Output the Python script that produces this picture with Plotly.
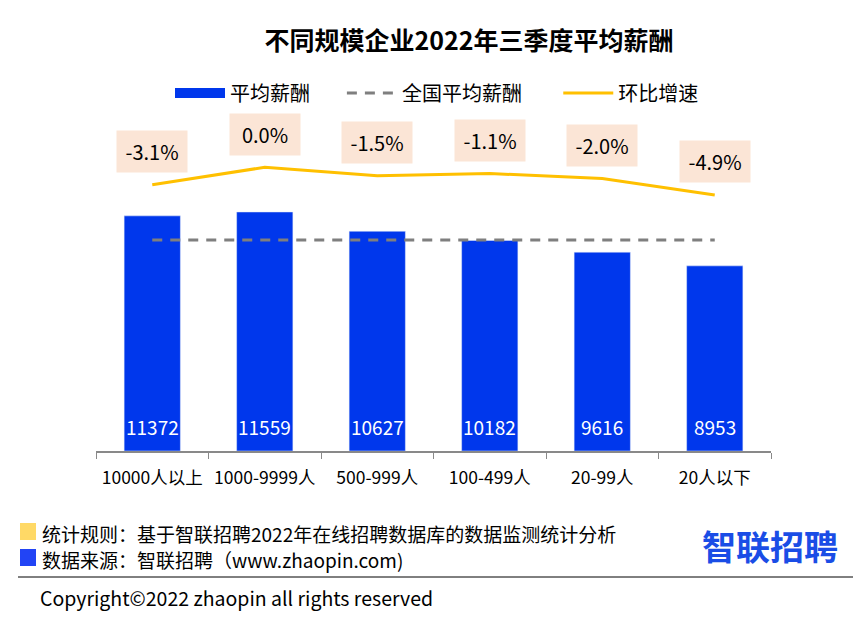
import plotly.graph_objects as go

categories = ["10000人以上", "1000-9999人", "500-999人", "100-499人", "20-99人", "20人以下"]
avg_salary = [11372, 11559, 10627, 10182, 9616, 8953]
national_avg = [10200] * len(categories)
growth = [-3.1, 0.0, -1.5, -1.1, -2.0, -4.9]
growth_labels = ["-3.1%", "0.0%", "-1.5%", "-1.1%", "-2.0%", "-4.9%"]

FONT = "Noto Sans CJK SC"
BLUE = "#0037EC"
YELLOW = "#FFC000"
GRAY = "#7F7F7F"
NB = "\u00a0"

fig = go.Figure()
fig.add_trace(go.Bar(
    x=categories, y=avg_salary, name="平均薪酬", marker_color=BLUE, width=0.5,
    showlegend=False,
))
# legend entry for bars (wide rectangle symbol)
fig.add_trace(go.Scatter(
    x=[None], y=[None], name="平均薪酬" + NB * 6, mode="lines",
    line=dict(color=BLUE, width=12),
))
fig.add_trace(go.Scatter(
    x=categories, y=national_avg, name="全国平均薪酬" + NB * 7, mode="lines",
    line=dict(color=GRAY, width=3, dash="10px,8px"),
))
fig.add_trace(go.Scatter(
    x=categories, y=growth, name="环比增速", mode="lines", yaxis="y2",
    line=dict(color=YELLOW, width=3),
))

annotations = []
for c, v in zip(categories, avg_salary):
    annotations.append(dict(
        x=c, y=0, xref="x", yref="y", text=str(v), showarrow=False, yshift=25,
        yanchor="middle", font=dict(size=19, color="white", family=FONT),
    ))
for c, g, lab in zip(categories, growth, growth_labels):
    annotations.append(dict(
        x=c, y=g, xref="x", yref="y2", text=lab, showarrow=False, yshift=33,
        bgcolor="#FBE5D6", borderpad=0, width=70, height=41,
        font=dict(size=20, color="#000", family=FONT),
    ))

L, R, T, B = 96, 771, 100, 451
W, H = 866, 622
def px(p):
    return (p - L) / (R - L)
def py(p):
    return (B - p) / (B - T)

annotations += [
    dict(xref="paper", yref="paper", x=px(40), y=py(533), xanchor="left", yanchor="middle",
         text="统计规则：基于智联招聘2022年在线招聘数据库的数据监测统计分析", showarrow=False,
         font=dict(size=19, color="#000", family=FONT)),
    dict(xref="paper", yref="paper", x=px(40), y=py(559), xanchor="left", yanchor="middle",
         text="数据来源：智联招聘（www.zhaopin.com)", showarrow=False,
         font=dict(size=19, color="#000", family=FONT)),
    dict(xref="paper", yref="paper", x=px(38), y=py(597), xanchor="left", yanchor="middle",
         text="Copyright©2022 zhaopin all rights reserved", showarrow=False,
         font=dict(size=19.5, color="#000", family=FONT)),
    dict(xref="paper", yref="paper", x=px(770), y=py(545), xanchor="center", yanchor="middle",
         text="<b>智联招聘</b>", showarrow=False,
         font=dict(size=34, color="#1A4DE6", family=FONT)),
]

shapes = [
    dict(type="rect", xref="paper", yref="paper", x0=px(20), x1=px(36), y0=py(523), y1=py(540),
         fillcolor="#FFD966", line=dict(width=0)),
    dict(type="rect", xref="paper", yref="paper", x0=px(20), x1=px(36), y0=py(549), y1=py(566),
         fillcolor="#2244F5", line=dict(width=0)),
    dict(type="line", xref="paper", yref="paper", x0=px(18), x1=px(853), y0=py(577), y1=py(577),
         line=dict(color="#000", width=1)),
]

fig.update_layout(
    width=W, height=H,
    margin=dict(l=L, r=W - R, t=T, b=H - B),
    paper_bgcolor="white", plot_bgcolor="white",
    font=dict(family=FONT, color="#000"),
    title=dict(text="<b>不同规模企业2022年三季度平均薪酬</b>", x=469 / W, xanchor="center",
               y=1 - 41 / H, yanchor="middle", font=dict(size=25, family=FONT, color="#000")),
    showlegend=True,
    legend=dict(orientation="h", x=px(437), xanchor="center", y=py(93), yanchor="middle",
                font=dict(size=20, family=FONT), itemwidth=50, traceorder="normal"),
    xaxis=dict(type="category", showline=True, linecolor="#898989", linewidth=1.5,
               ticks="outside", tickson="boundaries", ticklen=6, tickcolor="#898989",
               ticklabelstandoff=10,
               tickfont=dict(size=17.5, family=FONT, color="#000"), showgrid=False, fixedrange=True),
    yaxis=dict(range=[0, 16975], visible=False, showgrid=False, fixedrange=True),
    yaxis2=dict(range=[-50.2, 11.9], overlaying="y", side="right", visible=False, showgrid=False,
                fixedrange=True),
    annotations=annotations, shapes=shapes,
    bargap=0.5,
)

fig.write_html("out.html", config={"displayModeBar": False},
               post_script="document.body.style.margin='0';")
